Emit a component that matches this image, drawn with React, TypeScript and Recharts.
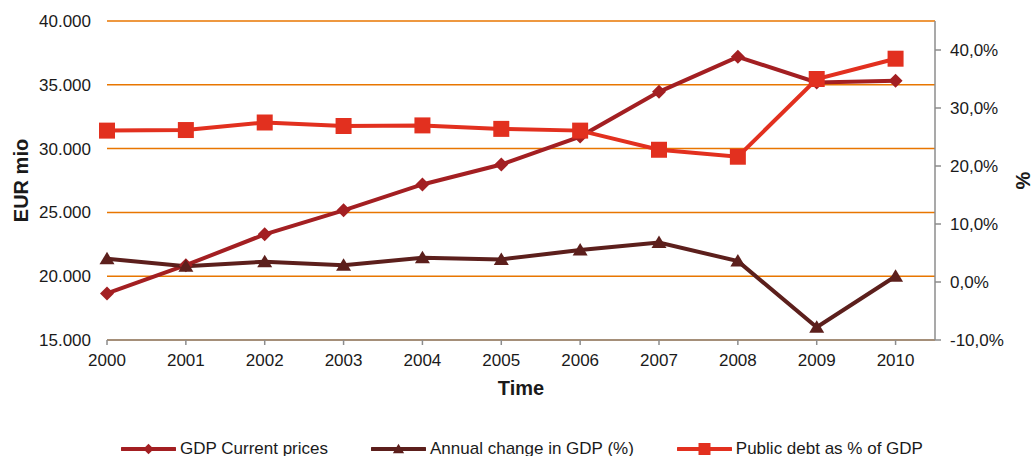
import React from 'react';
import { LineChart, Line, XAxis, YAxis, CartesianGrid, Legend, Label } from 'recharts';

const years = [2000, 2001, 2002, 2003, 2004, 2005, 2006, 2007, 2008, 2009, 2010];
const gdpCurrentPrices = [18650, 20860, 23280, 25160, 27190, 28750, 30940, 34450, 37190, 35180, 35310];
const annualChangePct = [4.0, 2.7, 3.5, 2.9, 4.2, 3.9, 5.5, 6.8, 3.6, -7.8, 1.0];
const publicDebtPct = [26.1, 26.2, 27.5, 26.9, 27.0, 26.4, 26.1, 22.8, 21.6, 35.0, 38.5];
const leftTicks = [15000, 20000, 25000, 30000, 35000, 40000];
const rightTicks = [-10, 0, 10, 20, 30, 40];
const seriesNames = ['GDP Current prices', 'Annual change in GDP (%)', 'Public debt as % of GDP'];

const data = years.map((year, i) => ({
  year,
  gdp: gdpCurrentPrices[i],
  change: annualChangePct[i],
  debt: publicDebtPct[i],
}));

const FONT = '"Liberation Sans", Arial, sans-serif';
const GDP_COLOR = '#A31F22';
const CHANGE_COLOR = '#5C1F1C';
const DEBT_COLOR = '#E2301F';
const GRID_COLOR = '#E87600';
const AXIS_COLOR = '#8C8C8C';
const TEXT_COLOR = '#1a1a1a';

const diamondPath = (cx: number, cy: number, s = 1) => {
  const r = 7 * s;
  return `M${cx},${cy - r}L${cx + r},${cy}L${cx},${cy + r}L${cx - r},${cy}Z`;
};
const trianglePath = (cx: number, cy: number, s = 1) =>
  `M${cx},${cy - 7 * s}L${cx + 7.5 * s},${cy + 5.5 * s}L${cx - 7.5 * s},${cy + 5.5 * s}Z`;
const squarePath = (cx: number, cy: number, s = 1) => {
  const h = 8 * s;
  return `M${cx - h},${cy - h}L${cx + h},${cy - h}L${cx + h},${cy + h}L${cx - h},${cy + h}Z`;
};

const makeDot = (pathFn: (cx: number, cy: number, s?: number) => string, color: string, prefix: string) =>
  (props: any) => {
    const { cx, cy, index } = props;
    if (cx == null || cy == null) return <g key={`${prefix}-${index}`} />;
    return <path key={`${prefix}-${index}`} d={pathFn(cx, cy)} fill={color} />;
  };

const shapeByKey: Record<string, (cx: number, cy: number, s?: number) => string> = {
  gdp: diamondPath,
  change: trianglePath,
  debt: squarePath,
};

const LegendContent = (props: any) => {
  const payload = [...(props.payload || [])].sort(
    (a: any, b: any) => seriesNames.indexOf(a.value) - seriesNames.indexOf(b.value)
  );
  return (
    <div style={{ display: 'flex', alignItems: 'center', paddingLeft: 121, fontFamily: FONT, fontSize: 17, color: TEXT_COLOR, height: 22 }}>
      {payload.map((item: any, i: number) => (
        <div key={i} style={{ display: 'flex', alignItems: 'center', marginRight: i < payload.length - 1 ? 43 : 0 }}>
          <svg width={55} height={20} style={{ marginRight: 4 }}>
            <line x1={1} y1={10} x2={54} y2={10} stroke={item.color} strokeWidth={4} strokeLinecap="round" />
            <path d={shapeByKey[item.dataKey](27.5, 10, 0.75)} fill={item.color} />
          </svg>
          <span style={{ whiteSpace: 'nowrap' }}>{item.value}</span>
        </div>
      ))}
    </div>
  );
};

const tickStyle = { fontFamily: FONT, fontSize: 17, fill: TEXT_COLOR };

export default function App() {
  return (
    <div style={{ position: 'absolute', left: 0, top: 0, fontFamily: FONT }}>
      <LineChart width={1034} height={456} data={data} margin={{ top: 21, right: 10, bottom: 64, left: 10 }}>
        <CartesianGrid yAxisId="left" vertical={false} stroke={GRID_COLOR} strokeWidth={1.5} />
        <XAxis
          dataKey="year"
          type="number"
          domain={[2000, 2010.5]}
          ticks={years}
          interval={0}
          height={30}
          tick={tickStyle}
          tickSize={5}
          tickMargin={9}
          axisLine={{ stroke: AXIS_COLOR, strokeWidth: 1.5 }}
          tickLine={{ stroke: AXIS_COLOR, strokeWidth: 1.5 }}
        >
          <Label
            content={(p: any) => {
              const vb = p.viewBox;
              return (
                <text x={vb.x + vb.width / 2} y={vb.y + 48} textAnchor="middle" dominantBaseline="central"
                  style={{ fontFamily: FONT, fontSize: 20, fontWeight: 'bold', fill: TEXT_COLOR }}>Time</text>
              );
            }}
          />
        </XAxis>
        <YAxis
          yAxisId="left"
          domain={[15000, 40000]}
          ticks={leftTicks}
          width={97}
          axisLine={false}
          tickLine={false}
          tickMargin={10}
          tick={tickStyle}
          tickFormatter={(v: number) => `${v / 1000}.000`}
        >
          <Label
            content={(p: any) => {
              const vb = p.viewBox;
              const cx = vb.x + 11;
              const cy = vb.y + vb.height / 2;
              return (
                <text x={cx} y={cy} transform={`rotate(-90 ${cx} ${cy})`} textAnchor="middle" dominantBaseline="central"
                  style={{ fontFamily: FONT, fontSize: 20, fontWeight: 'bold', fill: TEXT_COLOR }}>EUR mio</text>
              );
            }}
          />
        </YAxis>
        <YAxis
          yAxisId="right"
          orientation="right"
          domain={[-10, 45]}
          ticks={rightTicks}
          width={89}
          tickSize={6}
          tickMargin={9}
          tick={tickStyle}
          axisLine={{ stroke: AXIS_COLOR, strokeWidth: 1.5 }}
          tickLine={{ stroke: AXIS_COLOR, strokeWidth: 1.5 }}
          tickFormatter={(v: number) => `${v.toFixed(1).replace('.', ',')}%`}
        >
          <Label
            content={(p: any) => {
              const vb = p.viewBox;
              const cx = vb.x + 88;
              const cy = vb.y + vb.height / 2;
              return (
                <text x={cx} y={cy} transform={`rotate(-90 ${cx} ${cy})`} textAnchor="middle" dominantBaseline="central"
                  style={{ fontFamily: FONT, fontSize: 20, fontWeight: 'bold', fill: TEXT_COLOR }}>%</text>
              );
            }}
          />
        </YAxis>
        <Legend
          layout="vertical"
          align="center"
          verticalAlign="bottom"
          content={<LegendContent />}
          wrapperStyle={{ left: 0, top: 438, bottom: 'auto', width: 1034 }}
        />
        <Line
          yAxisId="left"
          dataKey="gdp"
          name={seriesNames[0]}
          type="linear"
          stroke={GDP_COLOR}
          strokeWidth={4}
          dot={makeDot(diamondPath, GDP_COLOR, 'gdp')}
          activeDot={false}
          isAnimationActive={false}
        />
        <Line
          yAxisId="right"
          dataKey="change"
          name={seriesNames[1]}
          type="linear"
          stroke={CHANGE_COLOR}
          strokeWidth={4}
          dot={makeDot(trianglePath, CHANGE_COLOR, 'chg')}
          activeDot={false}
          isAnimationActive={false}
        />
        <Line
          yAxisId="right"
          dataKey="debt"
          name={seriesNames[2]}
          type="linear"
          stroke={DEBT_COLOR}
          strokeWidth={4}
          dot={makeDot(squarePath, DEBT_COLOR, 'debt')}
          activeDot={false}
          isAnimationActive={false}
        />
      </LineChart>
    </div>
  );
}
